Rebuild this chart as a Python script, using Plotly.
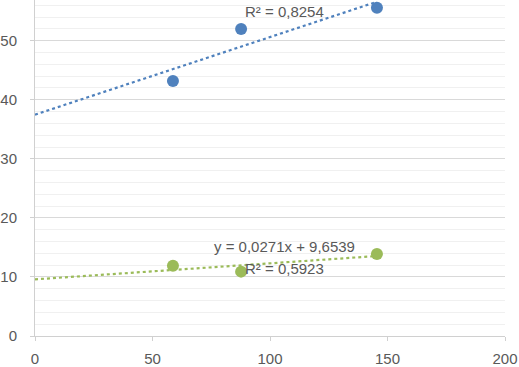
import numpy as np
import plotly.graph_objects as go

# Data
x_vals = [58.7, 87.7, 145.5]
blue_y = [43.2, 52.0, 55.6]
green_y = [11.9, 10.9, 13.9]
x_ticks = [0, 50, 100, 150, 200]
y_ticks = [0, 10, 20, 30, 40, 50]
blue_r2_label = "R² = 0,8254"
green_eq_label = "y = 0,0271x + 9,6539"
green_r2_label = "R² = 0,5923"

BLUE = "#4F81BD"
GREEN = "#9BBB59"
TXT = "#595959"

fig = go.Figure()

def trend(y):
    m, b = np.polyfit(x_vals, y, 1)
    xs = np.array([0, max(x_vals)])
    return xs, m * xs + b

for y, c in [(blue_y, BLUE), (green_y, GREEN)]:
    tx, ty = trend(y)
    fig.add_trace(go.Scatter(x=tx, y=ty, mode="lines",
                             line=dict(color=c, width=2.2, dash="dot"),
                             hoverinfo="skip"))
    fig.add_trace(go.Scatter(x=x_vals, y=y, mode="markers",
                             marker=dict(color=c, size=12)))

font = dict(family="Liberation Sans, Arial", size=15, color=TXT)
afont = dict(family="Liberation Sans, Arial", size=15, color=TXT)
fig.add_annotation(x=106, y=54.9, text=blue_r2_label, showarrow=False, font=afont)
fig.add_annotation(x=106, y=15.1, text=green_eq_label, showarrow=False, font=afont)
fig.add_annotation(x=106, y=11.5, text=green_r2_label, showarrow=False, font=afont)

fig.update_layout(
    width=519, height=367,
    margin=dict(l=35, r=14, t=0, b=31, pad=0),
    paper_bgcolor="white", plot_bgcolor="white",
    showlegend=False,
    font=font,
    xaxis=dict(range=[0, 200], tickvals=x_ticks, showgrid=False, automargin=False,
               showline=True, linecolor="#d0d0d0", linewidth=1,
               ticks="outside", tickcolor="#d0d0d0", ticklen=4,
               ticklabelstandoff=5,
               zeroline=False, tickfont=font),
    yaxis=dict(range=[0, 56.9], tickvals=y_ticks, showgrid=True, automargin=False,
               gridcolor="#d9d9d9", gridwidth=1,
               minor=dict(dtick=2, showgrid=True, gridcolor="#f0f0f0", gridwidth=1),
               showline=True, linecolor="#d0d0d0", linewidth=1,
               ticks="outside", tickcolor="#d0d0d0", ticklen=4,
               ticklabelstandoff=10,
               zeroline=False, tickfont=font),
)

fig.write_html("out.html", config={"displayModeBar": False},
               post_script="document.body.style.margin='0';")
